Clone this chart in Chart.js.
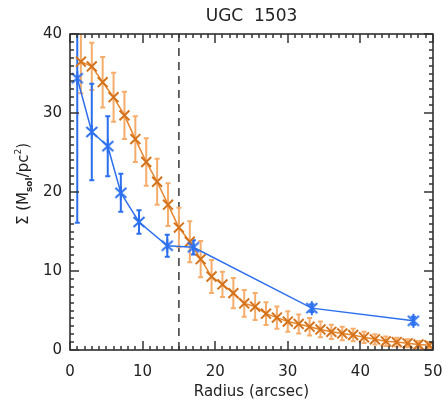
<!DOCTYPE html>
<html>
<head>
<meta charset="utf-8">
<script src="https://cdn.jsdelivr.net/npm/chart.js@4"></script>
<style>
  body { margin: 0; background: #fff; }
</style>
</head>
<body>
<canvas id="myChart" width="446" height="405"></canvas>
<script>
// HI surface density profile
var hiRadius = [1, 3, 5.2, 7, 9.5, 13.4, 17, 33.3, 47.3];
var hiSigma  = [34.4, 27.6, 25.8, 19.9, 16.2, 13.2, 13.0, 5.3, 3.7];
var hiErr    = [18.3, 6.1, 3.8, 2.4, 1.5, 1.4, 0.9, 0.5, 0.5];

// stellar surface density profile, sampled every 1.5 arcsec
var starRadius = [1.5, 3, 4.5, 6, 7.5, 9, 10.5, 12, 13.5, 15, 16.5, 18, 19.5, 21, 22.5, 24,
                  25.5, 27, 28.5, 30, 31.5, 33, 34.5, 36, 37.5, 39, 40.5, 42, 43.5, 45, 46.5, 48, 49.5];
var starSigma  = [36.5, 35.9, 33.9, 32.0, 29.7, 26.7, 23.8, 21.3, 18.4, 15.5, 13.7, 11.5, 9.3, 8.3, 7.2, 5.9,
                  5.5, 4.6, 4.1, 3.6, 3.3, 2.95, 2.6, 2.3, 2.1, 1.9, 1.6, 1.35, 1.1, 1.0, 0.85, 0.7, 0.6];
var starErr    = [4.0, 3.0, 3.2, 3.1, 3.0, 2.9, 3.0, 2.9, 2.7, 2.5, 2.6, 2.3, 2.1, 1.6, 1.9, 1.7,
                  1.7, 1.45, 1.4, 1.3, 1.2, 1.1, 1.0, 0.9, 0.85, 0.8, 0.7, 0.65, 0.6, 0.55, 0.5, 0.45, 0.4];

var xTicks = [0, 10, 20, 30, 40, 50];
var yTicks = [0, 10, 20, 30, 40];
var cutRadius = 15;

var blue = '#2b6fee';
var orange = '#e8852a';
var orangeMark = '#d4731c';
var orangeBar = '#f6ad6c';
var ink = '#222';

function toPoints(xs, ys) {
  return xs.map(function (x, i) { return { x: x, y: ys[i] }; });
}

// six-armed asterisk for the HI points
function asterisk(color) {
  var c = document.createElement('canvas');
  c.width = 16; c.height = 16;
  var g = c.getContext('2d');
  g.strokeStyle = color;
  g.lineWidth = 2;
  g.beginPath();
  g.moveTo(2.5, 3); g.lineTo(13.5, 13);
  g.moveTo(13.5, 3); g.lineTo(2.5, 13);
  g.moveTo(8, 1); g.lineTo(8, 15);
  g.stroke();
  return c;
}

function drawErrors(chart, xs, ys, errs, color, cap) {
  var ctx = chart.ctx, xs_ = chart.scales.x, ys_ = chart.scales.y;
  ctx.strokeStyle = color;
  ctx.lineWidth = 2;
  xs.forEach(function (x, i) {
    var px = xs_.getPixelForValue(x);
    var top = ys_.getPixelForValue(ys[i] + errs[i]);
    var bot = ys_.getPixelForValue(ys[i] - errs[i]);
    ctx.beginPath();
    ctx.moveTo(px, top); ctx.lineTo(px, bot);
    ctx.moveTo(px - cap, top); ctx.lineTo(px + cap, top);
    ctx.moveTo(px - cap, bot); ctx.lineTo(px + cap, bot);
    ctx.stroke();
  });
}

var idlFrame = {
  id: 'idlFrame',
  beforeDatasetsDraw: function (chart) {
    var ctx = chart.ctx, a = chart.chartArea;
    ctx.save();
    ctx.beginPath();
    ctx.rect(a.left, a.top, a.right - a.left, a.bottom - a.top);
    ctx.clip();
    // dashed marker at the cut radius
    var px = chart.scales.x.getPixelForValue(cutRadius);
    ctx.strokeStyle = '#444';
    ctx.lineWidth = 1.6;
    ctx.setLineDash([8, 6]);
    ctx.beginPath();
    ctx.moveTo(px, a.top); ctx.lineTo(px, a.bottom);
    ctx.stroke();
    ctx.setLineDash([]);
    drawErrors(chart, starRadius, starSigma, starErr, orangeBar, 2.5);
    drawErrors(chart, hiRadius, hiSigma, hiErr, blue, 2.5);
    ctx.restore();
  },
  afterDraw: function (chart) {
    var ctx = chart.ctx, a = chart.chartArea;
    var sx = chart.scales.x, sy = chart.scales.y;
    var L = a.left, R = a.right, T = a.top, B = a.bottom;
    ctx.save();
    ctx.setLineDash([]);
    ctx.strokeStyle = ink;
    ctx.lineWidth = 1.5;
    ctx.strokeRect(L, T, R - L, B - T);
    // inward major/minor ticks on all four sides
    ctx.fillStyle = '#333';
    var i, p, len;
    for (i = 0; i <= 50; i++) {
      p = Math.round(sx.getPixelForValue(i));
      len = (i % 10 === 0) ? 9 : 4;
      ctx.fillRect(p - 0.75, B - len, 1.5, len);
      ctx.fillRect(p - 0.75, T, 1.5, len);
    }
    for (i = 0; i <= 40; i++) {
      p = Math.round(sy.getPixelForValue(i));
      len = (i % 10 === 0) ? 9 : 4;
      ctx.fillRect(L, p - 0.75, len, 1.5);
      ctx.fillRect(R - len, p - 0.75, len, 1.5);
    }
    ctx.fillStyle = ink;

    ctx.textAlign = 'center';
    ctx.textBaseline = 'alphabetic';
    ctx.font = '17px "DejaVu Sans"';
    ctx.fillText('UGC  1503', (L + R) / 2, 21);
    ctx.font = '15px "DejaVu Sans"';
    ctx.fillText('Radius (arcsec)', (L + R) / 2, 396);

    // rotated y title with subscript and superscript
    var parts = [
      { t: '\u03A3 (M', f: '15px "DejaVu Sans"', dy: 0 },
      { t: 'sol', f: 'bold 9px "DejaVu Sans"', dy: 4 },
      { t: '/pc', f: '15px "DejaVu Sans"', dy: 0 },
      { t: '2', f: '9px "DejaVu Sans"', dy: -7 },
      { t: ')', f: '15px "DejaVu Sans"', dy: 0 }
    ];
    var total = 0;
    parts.forEach(function (q) { ctx.font = q.f; q.w = ctx.measureText(q.t).width; total += q.w; });
    ctx.translate(28, 184);
    ctx.rotate(-Math.PI / 2);
    ctx.textAlign = 'left';
    var cx = -total / 2;
    parts.forEach(function (q) {
      ctx.font = q.f;
      ctx.fillText(q.t, cx, q.dy);
      cx += q.w;
    });
    ctx.restore();
  }
};

var ctx = document.getElementById('myChart');
var myChart = new Chart(ctx, {
  type: 'scatter',
  data: {
    datasets: [
      {
        label: 'HI',
        data: toPoints(hiRadius, hiSigma),
        showLine: true,
        borderColor: blue,
        borderWidth: 1.5,
        pointStyle: asterisk(blue),
        pointRadius: 7,
        order: 0
      },
      {
        label: 'stars',
        data: toPoints(starRadius, starSigma),
        showLine: true,
        borderColor: orange,
        borderWidth: 1.5,
        pointStyle: 'crossRot',
        pointRadius: 7,
        pointBorderColor: orangeMark,
        pointBorderWidth: 2,
        order: 1
      }
    ]
  },
  options: {
    responsive: false,
    animation: false,
    events: [],
    layout: { padding: { top: 34, right: 13, left: 0, bottom: 0 } },
    plugins: {
      legend: { display: false },
      tooltip: { enabled: false }
    },
    scales: {
      x: {
        type: 'linear',
        min: 0,
        max: 50,
        afterFit: function (s) { s.height = 55; s.paddingLeft = 0; s.paddingRight = 0; },
        afterBuildTicks: function (s) { s.ticks = xTicks.map(function (v) { return { value: v }; }); },
        grid: { display: false, drawTicks: false },
        border: { display: false },
        ticks: { padding: 13, color: ink, font: { family: 'DejaVu Sans', size: 15 }, maxRotation: 0 }
      },
      y: {
        type: 'linear',
        min: 0,
        max: 40,
        afterFit: function (s) { s.width = 70; s.paddingTop = 0; s.paddingBottom = 0; },
        afterBuildTicks: function (s) { s.ticks = yTicks.map(function (v) { return { value: v }; }); },
        grid: { display: false, drawTicks: false },
        border: { display: false },
        ticks: { padding: 8, color: ink, font: { family: 'DejaVu Sans', size: 15 } }
      }
    }
  },
  plugins: [idlFrame]
});
</script>
</body>
</html>
